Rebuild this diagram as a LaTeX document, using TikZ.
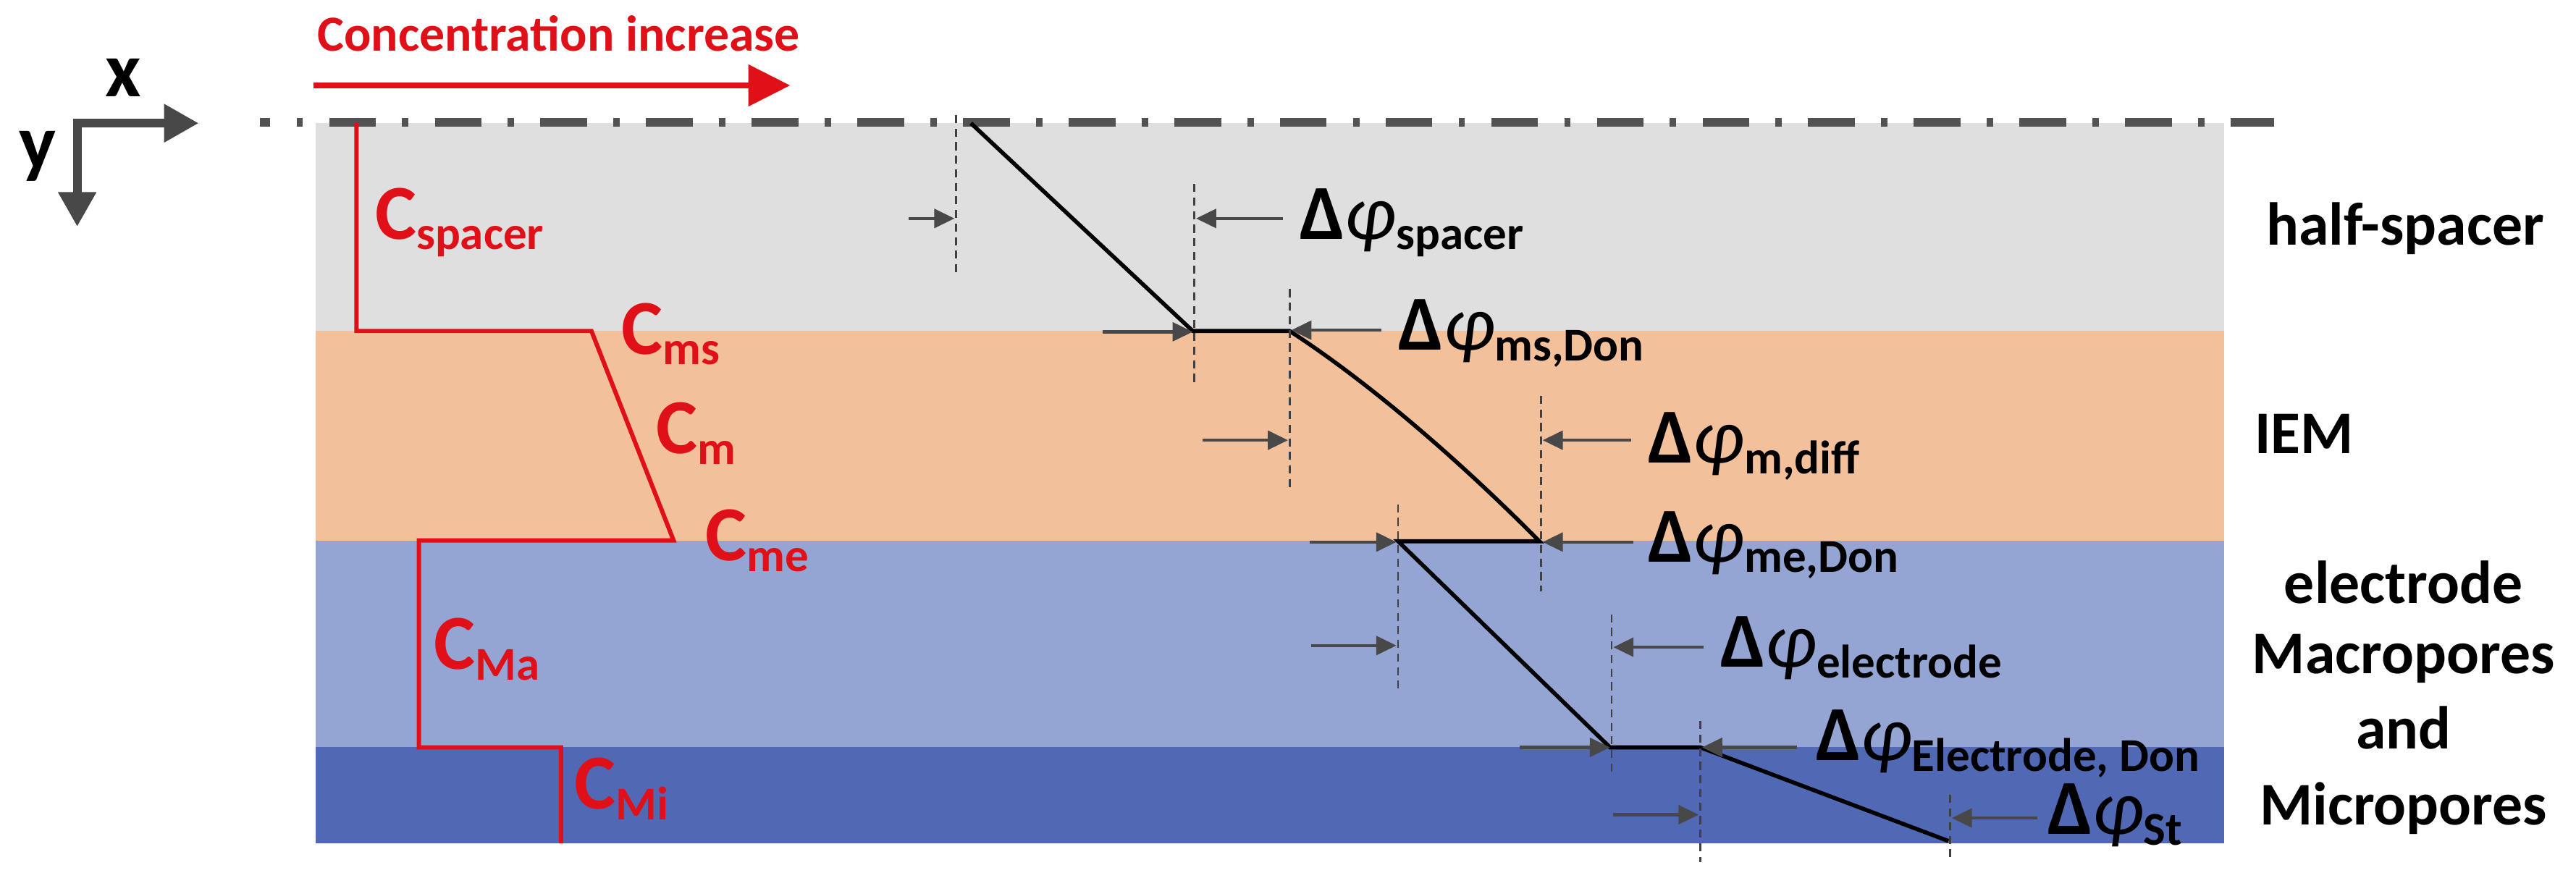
\documentclass[tikz,border=0pt]{standalone}
\usepackage{fontspec}
\setmainfont{Carlito}
\usetikzlibrary{arrows.meta}
\definecolor{laygray}{RGB}{223,223,223}
\definecolor{layorange}{RGB}{242,192,155}
\definecolor{laylblue}{RGB}{149,165,211}
\definecolor{laydblue}{RGB}{81,105,181}
\definecolor{cred}{RGB}{224,16,24}
\definecolor{agray}{RGB}{72,72,72}
\newcommand\lsub[1]{\raisebox{-3.7pt}{\fontsize{16.3}{17}\selectfont #1}}
\newcommand\dphi[1]{Δ{\mdseries\itshape φ}\lsub{#1}}
\tikzset{
  redline/.style={draw=cred, line width=1.5pt, line join=miter},
  blkline/.style={draw=black, line width=1.4pt, line join=miter},
  vdash/.style={draw=black!75, line width=0.7pt, dash pattern=on 2.8pt off 1.9pt},
  garrow/.style={draw=agray, line width=1.1pt, -{Triangle[length=7pt,width=6.5pt]}},
  clabel/.style={text=cred, font=\fontsize{27}{29}\selectfont\bfseries, anchor=base west, inner sep=0pt},
  plabel/.style={text=black, font=\fontsize{27}{29}\selectfont\bfseries, anchor=base west, inner sep=0pt},
  rlabel/.style={text=black, font=\fontsize{21}{25}\selectfont\bfseries, anchor=base, inner sep=0pt},
  axarrow/.style={draw=agray, line width=3pt, -{Triangle[length=12pt,width=12.5pt]}},
}
\begin{document}
\begin{tikzpicture}[x=0.02cm,y=-0.02cm]
\useasboundingbox (0,0) rectangle (1568,539);
% layers
\fill[laygray] (192,75) rectangle (1354,201.5);
\fill[layorange] (192,201.5) rectangle (1354,329);
\fill[laylblue] (192,329) rectangle (1354,455);
\fill[laydblue] (192,455) rectangle (1354,513.5);
% dash-dot top line
\coordinate (tl) at (158,74.5);
\coordinate (tr) at (1384,74.5);
\draw[draw=black!68, line width=2.9pt, dash pattern=on 16.2pt off 9.1pt on 2.2pt off 9.1pt, dash phase=12.5pt] (tl) -- (tr);
% axes
\coordinate (o) at (47,75);
\coordinate (xe) at (121,75);
\coordinate (ye) at (47,138);
\draw[axarrow] ([xshift=-1.5pt]o) -- (xe);
\draw[axarrow] (o) -- (ye);
\node[font=\fontsize{27}{29}\selectfont\bfseries, anchor=base, inner sep=0pt] (xl) at (75,59) {x};
\node[font=\fontsize{27}{29}\selectfont\bfseries, anchor=base, inner sep=0pt] (yl) at (23,103) {y};
% concentration increase
\node[text=cred, font=\fontsize{17.5}{19}\selectfont\bfseries, anchor=base, inner sep=0pt] (ci) at (340,31) {Concentration increase};
\coordinate (ca) at (191,52);
\coordinate (cb) at (481,52);
\draw[draw=cred, line width=2.2pt, -{Triangle[length=14.5pt,width=14pt]}] (ca) -- (cb);
% red concentration profile
\coordinate (r0) at (217,75);
\coordinate (r1) at (217,201.5);
\coordinate (r2) at (360,201.5);
\coordinate (r3) at (410,329);
\coordinate (r4) at (255,329);
\coordinate (r5) at (255,455);
\coordinate (r6) at (341.5,455);
\coordinate (r7) at (341.5,513.5);
\draw[redline] (r0) -- (r1) -- (r2) -- (r3) -- (r4) -- (r5) -- (r6) -- (r7);
\node[clabel] (cspacer) at (228,145.5) {C\lsub{spacer}};
\node[clabel] (cms) at (378,215.5) {C\lsub{ms}};
\node[clabel] (cm) at (399,276) {C\lsub{m}};
\node[clabel] (cme) at (429,341.5) {C\lsub{me}};
\node[clabel] (cma) at (264,407.5) {C\lsub{Ma}};
\node[clabel] (cmi) at (349.5,492.5) {C\lsub{Mi}};
% black potential profile
\coordinate (b0) at (591,75);
\coordinate (b1) at (726,201.5);
\coordinate (b2) at (785,201.5);
\coordinate (b3) at (937,329.5);
\coordinate (b4) at (851,329.5);
\coordinate (b5) at (980,455);
\coordinate (b6) at (1035,455);
\coordinate (b7) at (1186,512);
\draw[blkline] (b0) -- (b1) -- (b2) .. controls (835,234) and (890,282) .. (b3) -- (b4) -- (b5) -- (b6) -- (b7);
% dashed verticals
\coordinate (d1a) at (582,70);   \coordinate (d1b) at (582,166);
\coordinate (d2a) at (727,112);  \coordinate (d2b) at (727,233);
\coordinate (d3a) at (785,176);  \coordinate (d3b) at (785,298);
\coordinate (d4a) at (938,241);  \coordinate (d4b) at (938,360);
\coordinate (d5a) at (851,307);  \coordinate (d5b) at (851,420);
\coordinate (d6a) at (981,374);  \coordinate (d6b) at (981,471);
\coordinate (d7a) at (1035,439); \coordinate (d7b) at (1035,525);
\coordinate (d8a) at (1187,484); \coordinate (d8b) at (1187,525);
\foreach \i in {1,...,8} {\draw[vdash] (d\i a) -- (d\i b);}
% gray arrows
\coordinate (a1s) at (553,133);   \coordinate (a1e) at (581,133);
\coordinate (a2s) at (781,133);   \coordinate (a2e) at (728,133);
\coordinate (a3s) at (671,202);   \coordinate (a3e) at (726,202);
\coordinate (a4s) at (841,201);   \coordinate (a4e) at (786,201);
\coordinate (a5s) at (732,268);   \coordinate (a5e) at (784,268);
\coordinate (a6s) at (993,268);   \coordinate (a6e) at (939,268);
\coordinate (a7s) at (797,330);   \coordinate (a7e) at (850,330);
\coordinate (a8s) at (994,330);   \coordinate (a8e) at (939,330);
\coordinate (a9s) at (798,393);   \coordinate (a9e) at (850,393);
\coordinate (a10s) at (1037,394); \coordinate (a10e) at (982,394);
\coordinate (a11s) at (925,455);  \coordinate (a11e) at (980,455);
\coordinate (a12s) at (1094,455); \coordinate (a12e) at (1036,455);
\coordinate (a13s) at (982,496);  \coordinate (a13e) at (1034,496);
\coordinate (a14s) at (1240,498); \coordinate (a14e) at (1188,498);
\foreach \i in {1,...,14} {\draw[garrow] (a\i s) -- (a\i e);}
% potential labels
\node[plabel] (pspacer) at (791,145.5) {\dphi{spacer}};
\node[plabel] (pmsdon) at (851,213) {\dphi{ms,Don}};
\node[plabel] (pmdiff) at (1003,282) {\dphi{m,diff}};
\node[plabel] (pmedon) at (1003,342) {\dphi{me,Don}};
\node[plabel] (pelec) at (1047,406) {\dphi{electrode}};
\node[plabel] (peldon) at (1105,463) {\dphi{Electrode, Don}};
\node[plabel] (pst) at (1246,508) {\dphi{St}};
% right labels
\node[rlabel] (lhs) at (1464,149) {half-spacer};
\node[rlabel, anchor=base west] (liem) at (1372,276) {IEM};
\node[rlabel] (lel1) at (1463,367.5) {electrode};
\node[rlabel] (lel2) at (1463,410) {Macropores};
\node[rlabel] (lel3) at (1463,456) {and};
\node[rlabel] (lel4) at (1463,502) {Micropores};
\end{tikzpicture}
\end{document}
